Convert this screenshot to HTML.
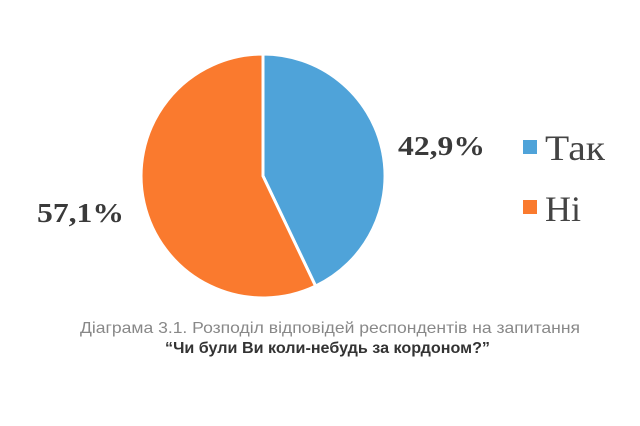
<!DOCTYPE html>
<html><head><meta charset="utf-8"><style>
html,body{margin:0;padding:0;background:#fff;}
body{width:640px;height:426px;overflow:hidden;position:relative;}
</style></head><body>
<svg width="640" height="426" xmlns="http://www.w3.org/2000/svg" style="position:absolute;left:0;top:0">
<path d="M263,176 L263,54 A122,122 0 0,1 315.6,286.1 Z" fill="#4FA3D9" stroke="#fff" stroke-width="3"/>
<path d="M263,176 L315.6,286.1 A122,122 0 1,1 263,54 Z" fill="#FA7A2E" stroke="#fff" stroke-width="3"/>
<text x="398" y="155" font-family="Liberation Serif, serif" font-weight="bold" font-size="27" fill="#3a3a3a" textLength="87" lengthAdjust="spacingAndGlyphs">42,9%</text>
<text x="37" y="222" font-family="Liberation Serif, serif" font-weight="bold" font-size="27" fill="#3a3a3a" textLength="87" lengthAdjust="spacingAndGlyphs">57,1%</text>
<rect x="523" y="140" width="14" height="14" fill="#4FA3D9"/>
<text x="545" y="160" font-family="Liberation Serif, serif" font-size="36" fill="#444" textLength="60" lengthAdjust="spacingAndGlyphs">Так</text>
<rect x="523" y="200" width="14" height="14" fill="#FA7A2E"/>
<text x="545" y="221" font-family="Liberation Serif, serif" font-size="36" fill="#444">Ні</text>
<text x="80" y="333" font-family="Liberation Sans, sans-serif" font-size="16" fill="#888" textLength="500" lengthAdjust="spacingAndGlyphs">Діаграма 3.1. Розподіл відповідей респондентів на запитання</text>
<text x="165" y="353" font-family="Liberation Sans, sans-serif" font-weight="bold" font-size="16" fill="#333" textLength="325" lengthAdjust="spacingAndGlyphs">“Чи були Ви коли-небудь за кордоном?”</text>
</svg>
</body></html>
